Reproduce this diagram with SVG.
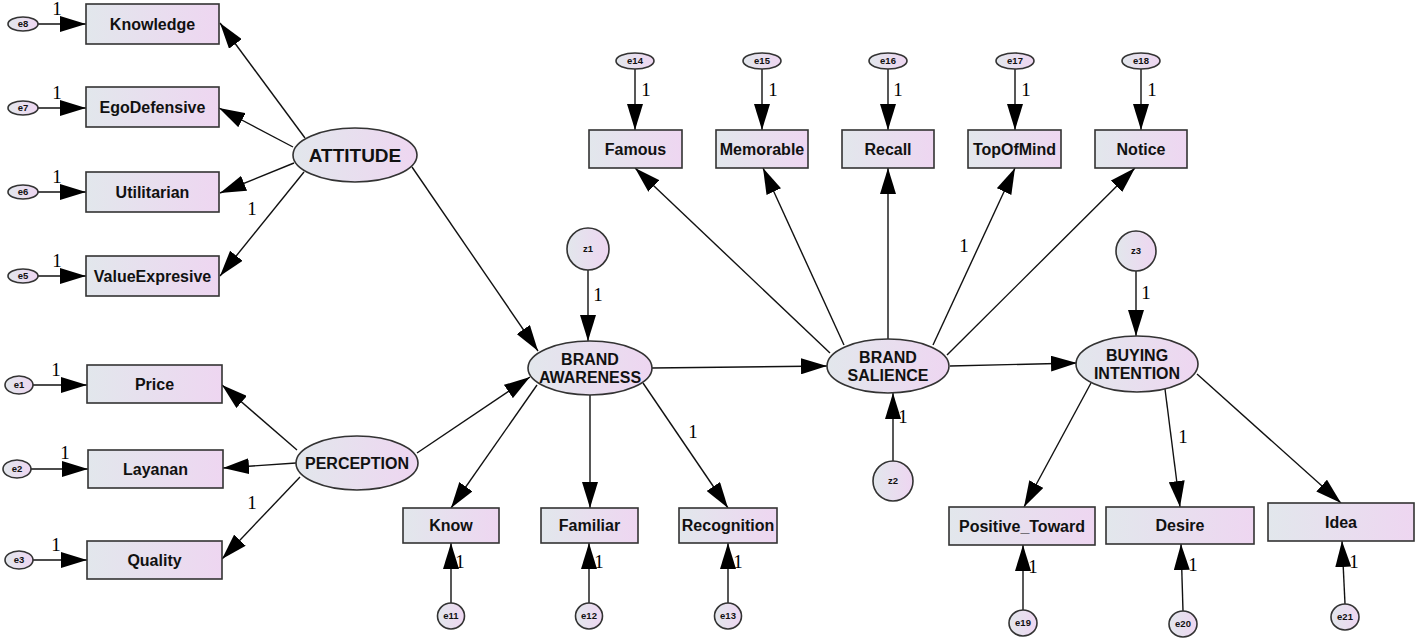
<svg xmlns="http://www.w3.org/2000/svg" width="1416" height="639" viewBox="0 0 1416 639">
<defs>
<linearGradient id="g" x1="0" y1="0" x2="1" y2="0">
<stop offset="0" stop-color="#e2e7ec"/>
<stop offset="1" stop-color="#eed6f1"/>
</linearGradient>
<marker id="ah" markerUnits="userSpaceOnUse" markerWidth="26" markerHeight="16" refX="26" refY="8" orient="auto">
<path d="M0,0 L26,8 L0,16 z" fill="#000"/>
</marker>
</defs>
<style>
rect, ellipse, circle { fill: url(#g); stroke: #333; stroke-width: 1.6; }
.t { font-family: "Liberation Sans", Arial, sans-serif; font-weight: bold; font-size: 16px; fill: #111; text-anchor: middle; }
.lt { font-size: 19px; }
.e { font-family: "Liberation Sans", Arial, sans-serif; font-weight: bold; font-size: 9.5px; fill: #111; text-anchor: middle; }
.one { font-family: "Liberation Serif", "Times New Roman", serif; font-size: 19px; fill: #000; text-anchor: middle; }
#connectors line { stroke: #111; stroke-width: 1.4; marker-end: url(#ah); }
</style>
<rect width="1416" height="639" style="fill:#fff;stroke:none"/>

<g id="connectors">
<line x1="38" y1="24" x2="86" y2="24"/>
<line x1="38" y1="108" x2="86" y2="108"/>
<line x1="38" y1="192" x2="86" y2="192"/>
<line x1="38" y1="276" x2="86" y2="276"/>
<line x1="305" y1="138" x2="220" y2="23"/>
<line x1="293" y1="147" x2="219" y2="108"/>
<line x1="294" y1="163" x2="220" y2="193"/>
<line x1="304" y1="172" x2="220" y2="276"/>
<line x1="33" y1="385" x2="87" y2="385"/>
<line x1="31" y1="469" x2="88" y2="469"/>
<line x1="33" y1="560" x2="87" y2="560"/>
<line x1="297" y1="450" x2="222" y2="385"/>
<line x1="296" y1="463" x2="223" y2="468"/>
<line x1="300" y1="477" x2="222" y2="559"/>
<line x1="412" y1="167" x2="538" y2="351"/>
<line x1="417" y1="453" x2="530" y2="377"/>
<line x1="588" y1="270" x2="588" y2="341"/>
<line x1="537" y1="385" x2="451" y2="508"/>
<line x1="590" y1="395" x2="590" y2="508"/>
<line x1="643" y1="383" x2="728" y2="508"/>
<line x1="652" y1="368" x2="827" y2="366"/>
<line x1="451" y1="603" x2="451" y2="543"/>
<line x1="589" y1="603" x2="589" y2="543"/>
<line x1="728" y1="603" x2="728" y2="543"/>
<line x1="635" y1="69" x2="635" y2="130"/>
<line x1="762" y1="69" x2="762" y2="130"/>
<line x1="888" y1="69" x2="888" y2="130"/>
<line x1="1015" y1="69" x2="1015" y2="130"/>
<line x1="1141" y1="69" x2="1141" y2="130"/>
<line x1="830" y1="353" x2="635" y2="168"/>
<line x1="844" y1="345" x2="763" y2="168"/>
<line x1="888" y1="339" x2="888" y2="168"/>
<line x1="933" y1="345" x2="1015" y2="168"/>
<line x1="947" y1="355" x2="1135" y2="168"/>
<line x1="893" y1="461" x2="893" y2="393"/>
<line x1="950" y1="366" x2="1077" y2="363"/>
<line x1="1136" y1="271" x2="1136" y2="336"/>
<line x1="1091" y1="383" x2="1024" y2="507"/>
<line x1="1165" y1="389" x2="1180" y2="507"/>
<line x1="1197" y1="374" x2="1341" y2="503"/>
<line x1="1023" y1="610" x2="1023" y2="545"/>
<line x1="1183" y1="611" x2="1181" y2="544"/>
<line x1="1345" y1="604" x2="1342" y2="541"/>
</g>

<g id="loadings">
<text class="one" x="57" y="15">1</text>
<text class="one" x="57" y="99">1</text>
<text class="one" x="57" y="183">1</text>
<text class="one" x="57" y="267">1</text>
<text class="one" x="252" y="215">1</text>
<text class="one" x="56" y="376">1</text>
<text class="one" x="65" y="459">1</text>
<text class="one" x="56" y="551">1</text>
<text class="one" x="252" y="509">1</text>
<text class="one" x="598" y="301">1</text>
<text class="one" x="693" y="438">1</text>
<text class="one" x="460" y="568">1</text>
<text class="one" x="599" y="568">1</text>
<text class="one" x="738" y="568">1</text>
<text class="one" x="646" y="96">1</text>
<text class="one" x="773" y="96">1</text>
<text class="one" x="898" y="96">1</text>
<text class="one" x="1026" y="96">1</text>
<text class="one" x="1152" y="96">1</text>
<text class="one" x="964" y="252">1</text>
<text class="one" x="903" y="423">1</text>
<text class="one" x="1146" y="299">1</text>
<text class="one" x="1183" y="443">1</text>
<text class="one" x="1033" y="573">1</text>
<text class="one" x="1193" y="571">1</text>
<text class="one" x="1354" y="568">1</text>
</g>

<g id="e8"><ellipse cx="23" cy="24" rx="15" ry="7"/><text class="e" x="23" y="27">e8</text></g>
<g id="e7"><ellipse cx="23" cy="108" rx="15" ry="7"/><text class="e" x="23" y="111">e7</text></g>
<g id="e6"><ellipse cx="23" cy="192" rx="15" ry="7"/><text class="e" x="23" y="195">e6</text></g>
<g id="e5"><ellipse cx="23" cy="276" rx="15" ry="7"/><text class="e" x="23" y="279">e5</text></g>
<g id="e1"><ellipse cx="19" cy="385" rx="14" ry="9"/><text class="e" x="19" y="388">e1</text></g>
<g id="e2"><ellipse cx="17" cy="469" rx="14" ry="9"/><text class="e" x="17" y="472">e2</text></g>
<g id="e3"><ellipse cx="19" cy="560" rx="14" ry="9"/><text class="e" x="19" y="563">e3</text></g>

<g id="Knowledge"><rect x="86" y="4" width="133" height="40"/><text class="t" x="152.5" y="30">Knowledge</text></g>
<g id="EgoDefensive"><rect x="86" y="87" width="133" height="40"/><text class="t" x="152.5" y="113">EgoDefensive</text></g>
<g id="Utilitarian"><rect x="86" y="172" width="133" height="40"/><text class="t" x="152.5" y="198">Utilitarian</text></g>
<g id="ValueExpresive"><rect x="86" y="256" width="133" height="40"/><text class="t" x="152.5" y="282">ValueExpresive</text></g>
<g id="Price"><rect x="87" y="365" width="135" height="38"/><text class="t" x="154.5" y="390">Price</text></g>
<g id="Layanan"><rect x="88" y="450" width="135" height="38"/><text class="t" x="155.5" y="475">Layanan</text></g>
<g id="Quality"><rect x="87" y="541" width="135" height="38"/><text class="t" x="154.5" y="566">Quality</text></g>

<g id="ATTITUDE"><ellipse cx="355" cy="155" rx="62" ry="27"/><text class="t lt" x="355" y="162">ATTITUDE</text></g>
<g id="PERCEPTION"><ellipse cx="357" cy="463" rx="61" ry="27"/><text class="t" x="357" y="469">PERCEPTION</text></g>

<g id="z1"><circle cx="588" cy="249" r="21"/><text class="e" x="588" y="252">z1</text></g>
<g id="BRAND_AWARENESS"><ellipse cx="590" cy="368" rx="62" ry="27"/><text class="t" x="590" y="365">BRAND</text><text class="t" x="590" y="383">AWARENESS</text></g>
<g id="Know"><rect x="403" y="508" width="96" height="35"/><text class="t" x="451" y="531">Know</text></g>
<g id="Familiar"><rect x="541" y="508" width="97" height="35"/><text class="t" x="589.5" y="531">Familiar</text></g>
<g id="Recognition"><rect x="679" y="508" width="98" height="35"/><text class="t" x="728" y="531">Recognition</text></g>
<g id="e11"><ellipse cx="451" cy="616" rx="13.5" ry="13"/><text class="e" x="451" y="619">e11</text></g>
<g id="e12"><ellipse cx="589" cy="616" rx="13.5" ry="13"/><text class="e" x="589" y="619">e12</text></g>
<g id="e13"><ellipse cx="728" cy="616" rx="13.5" ry="13"/><text class="e" x="728" y="619">e13</text></g>

<g id="e14"><ellipse cx="635" cy="61" rx="19" ry="8"/><text class="e" x="635" y="64">e14</text></g>
<g id="e15"><ellipse cx="762" cy="61" rx="19" ry="8"/><text class="e" x="762" y="64">e15</text></g>
<g id="e16"><ellipse cx="888" cy="61" rx="19" ry="8"/><text class="e" x="888" y="64">e16</text></g>
<g id="e17"><ellipse cx="1015" cy="61" rx="19" ry="8"/><text class="e" x="1015" y="64">e17</text></g>
<g id="e18"><ellipse cx="1141" cy="61" rx="19" ry="8"/><text class="e" x="1141" y="64">e18</text></g>
<g id="Famous"><rect x="589" y="130" width="93" height="38"/><text class="t" x="635.5" y="155">Famous</text></g>
<g id="Memorable"><rect x="716" y="130" width="92" height="38"/><text class="t" x="762" y="155">Memorable</text></g>
<g id="Recall"><rect x="842" y="130" width="92" height="38"/><text class="t" x="888" y="155">Recall</text></g>
<g id="TopOfMind"><rect x="968" y="130" width="93" height="38"/><text class="t" x="1014.5" y="155">TopOfMind</text></g>
<g id="Notice"><rect x="1095" y="130" width="92" height="38"/><text class="t" x="1141" y="155">Notice</text></g>

<g id="BRAND_SALIENCE"><ellipse cx="888" cy="366" rx="61" ry="27"/><text class="t" x="888" y="363">BRAND</text><text class="t" x="888" y="381">SALIENCE</text></g>
<g id="z2"><circle cx="893" cy="481" r="20"/><text class="e" x="893" y="484">z2</text></g>
<g id="z3"><circle cx="1136" cy="251" r="20"/><text class="e" x="1136" y="254">z3</text></g>
<g id="BUYING_INTENTION"><ellipse cx="1137" cy="364" rx="61" ry="28"/><text class="t" x="1137" y="361">BUYING</text><text class="t" x="1137" y="379">INTENTION</text></g>
<g id="Positive_Toward"><rect x="949" y="507" width="146" height="38"/><text class="t" x="1022" y="532">Positive_Toward</text></g>
<g id="Desire"><rect x="1106" y="507" width="148" height="37"/><text class="t" x="1180" y="531">Desire</text></g>
<g id="Idea"><rect x="1268" y="503" width="146" height="38"/><text class="t" x="1341" y="528">Idea</text></g>
<g id="e19"><ellipse cx="1023" cy="623" rx="14" ry="13"/><text class="e" x="1023" y="626">e19</text></g>
<g id="e20"><ellipse cx="1183" cy="624" rx="14" ry="13"/><text class="e" x="1183" y="627">e20</text></g>
<g id="e21"><ellipse cx="1345" cy="617" rx="14" ry="13"/><text class="e" x="1345" y="620">e21</text></g>
</svg>
